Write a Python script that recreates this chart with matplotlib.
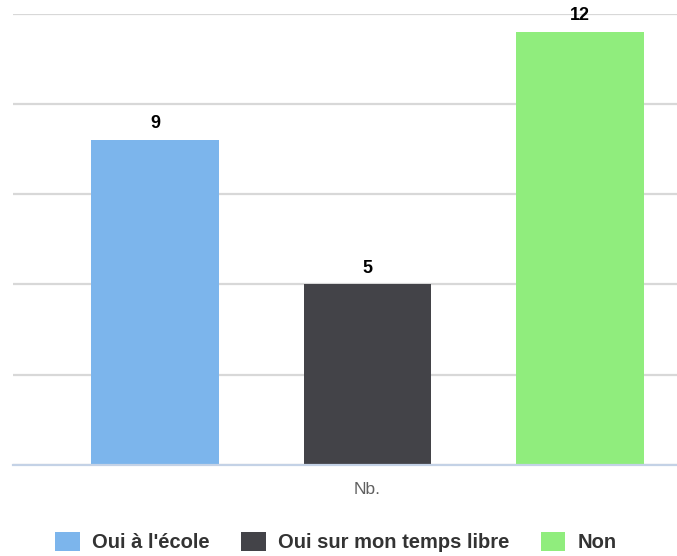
import numpy as np
import matplotlib.pyplot as plt
from matplotlib.patches import Patch

# data
categories = ["Oui à l'école", "Oui sur mon temps libre", "Non"]
values = [9, 5, 12]
colors = ['#7cb5ec', '#434348', '#90ed7d']
xlabel = "Nb."

plt.rcParams['font.family'] = ['Liberation Sans', 'DejaVu Sans']

fig = plt.figure(figsize=(6.77, 5.56), dpi=100)
ax = fig.add_axes([13/677, 91/556, 1 - 13/677, (465 - 13.5)/556])

x = np.arange(len(values))
bars = ax.bar(x, values, width=0.6, color=colors, zorder=3)

# value labels above bars
for b, v in zip(bars, values):
    ax.annotate(str(v), (b.get_x() + b.get_width()/2, b.get_height()),
                xytext=(0, 5.5), textcoords='offset points',
                ha='center', va='bottom', fontsize=13, fontweight='bold', color='black')

ax.set_ylim(0, 12.5)
ax.set_xlim(-0.668, 2.456)
ax.set_yticks(np.arange(0, 12.6, 2.5))
ax.yaxis.grid(True, color='#d8d8d8', linewidth=1.6, zorder=0)
ax.set_xticks([])
ax.tick_params(axis='y', length=0, labelleft=False)
for s in ['top', 'right', 'left']:
    ax.spines[s].set_visible(False)
ax.spines['bottom'].set_color('#c4d2e6')
ax.spines['bottom'].set_linewidth(1.6)
ax.spines['bottom'].set_zorder(4)

fig.text(367/677, 1 - 490/556, xlabel, ha='center', va='center', fontsize=12.5, color='#606060')

handles = [Patch(facecolor=c, edgecolor='none') for c in colors]
leg = fig.legend(handles, categories, loc='center', bbox_to_anchor=(336/677, 1 - 542/556),
                 ncol=3, frameon=False, handlelength=1.2, handleheight=1.05,
                 handletextpad=0.6, columnspacing=1.6,
                 prop={'size': 14.5, 'weight': 'bold'})
for t in leg.get_texts():
    t.set_color('#333333')

fig.savefig('out.png', dpi=100)
